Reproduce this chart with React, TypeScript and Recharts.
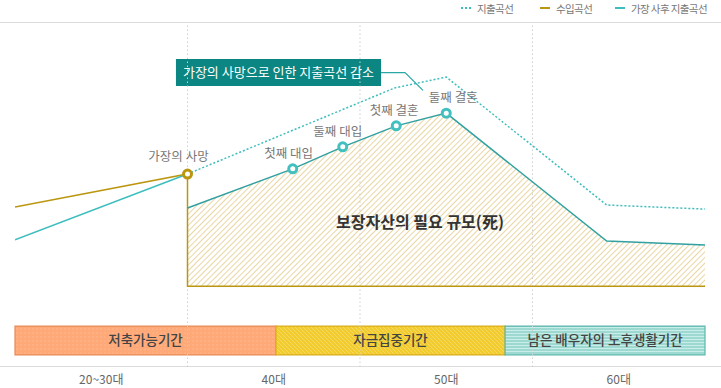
import {
  ComposedChart,
  Line,
  Area,
  XAxis,
  YAxis,
  ReferenceLine,
  ReferenceArea,
  ReferenceDot,
} from "recharts";

// 연령대 구간 (x축: 구간 하나가 1 단위)
const categories = ["20~30대", "40대", "50대", "60대"];
const categoryTicks = [0.5, 1.5, 2.5, 3.5];
const decadeBounds = [1, 2, 3];

// 수입곡선: 가장 사망 시점에서 급감
const incomeX = [0, 1, 1, 4];
const incomeY = [46.5, 56.1, 23.5, 23.5];

// 지출곡선: 사망 이전 (실선)
const spendBeforeX = [0, 1];
const spendBeforeY = [37, 56.1];

// 지출곡선: 원래 예상 (점선)
const spendExpectedX = [1, 2.2, 2.5, 3.43, 4];
const spendExpectedY = [56.1, 81.1, 84.3, 47.1, 45.9];

// 가장 사후 지출곡선
const spendAfterX = [1, 1.61, 1.9, 2.21, 2.5, 3.43, 4];
const spendAfterY = [46.2, 57.6, 64.0, 70.1, 73.8, 36.6, 35.5];
const spendAfterEvents = ["", "첫째 대입", "둘째 대입", "첫째 결혼", "둘째 결혼", "", ""];

// 가장의 사망 시점
const deathX = 1;
const deathY = 56.1;
const deathLabel = "가장의 사망";

// 설명 상자
const calloutText = "가장의 사망으로 인한 지출곡선 감소";
const calloutBox = { x1: 0.933, x2: 2.122, y1: 81.7, y2: 89.5 };
const leaderX = [2.122, 2.261, 2.365];
const leaderY = [85.6, 85.6, 80.4];

const areaLabel = "보장자산의 필요 규모(死)";
const areaLabelX = 2.348;
const areaLabelY = 42.2;

// 기간 막대
const periods = ["저축가능기간", "자금집중기간", "남은 배우자의 노후생활기간"];
const periodStart = [0, 1.513, 2.841];
const periodEnd = [1.513, 2.841, 4];
const periodLow = 3.5;
const periodHigh = 11.9;
const periodFill = ["url(#dotsOrange)", "url(#stripeYellow)", "url(#stripeTeal)"];
const periodStroke = ["#e98a57", "#d9ae1c", "#5ab8ad"];

const zip = (xs: number[], ys: number[]) => xs.map((x, i) => ({ x, y: ys[i] }));

const GOLD = "#bb960e";
const TEAL = "#3dbdbd";
const TEAL_DARK = "#30a0a0";
const BASE = 23.5;

const eventDx = [0, -4, -5, -2, 7];

function EventDot(props: any) {
  const { cx, cy, index } = props;
  const label = spendAfterEvents[index];
  if (!label) return <g key={`ev-${index}`} />;
  return (
    <g key={`ev-${index}`}>
      <circle cx={cx} cy={cy} r={4} fill="#fff" stroke="#42bfbf" strokeWidth={3} />
      <text
        x={cx + (eventDx[index] ?? 0)}
        y={cy - 11}
        textAnchor="middle"
        fontSize={12.5}
        fill="#777"
      >
        {label}
      </text>
    </g>
  );
}

function LegendItem({ left, kind, color, text }: any) {
  return (
    <div style={{ position: "absolute", left, top: 0, display: "flex", alignItems: "center", height: 16 }}>
      <span
        style={{
          display: "inline-block",
          width: 10,
          height: 0,
          borderTop: kind === "dot" ? `2px dotted ${color}` : `2px solid ${color}`,
          marginRight: 6,
        }}
      />
      <span style={{ fontSize: 10.5, color: "#777", whiteSpace: "nowrap", letterSpacing: -0.6 }}>{text}</span>
    </div>
  );
}

const hLine = (top: number) => (
  <div style={{ position: "absolute", left: 0, top, width: 721, height: 0, borderTop: "1.5px solid #dcdcdc" }} />
);

export default function App() {
  return (
    <div
      style={{
        position: "relative",
        width: 721,
        height: 388,
        background: "#fff",
        overflow: "hidden",
        fontFamily: "'Noto Sans CJK KR', 'Noto Sans', sans-serif",
      }}
    >
      <style>{"body{margin:0}"}</style>
      <svg width={0} height={0} style={{ position: "absolute" }}>
        <defs>
          <pattern id="needArea" width={4} height={4} patternUnits="userSpaceOnUse" patternTransform="rotate(45)">
            <rect x={0} y={0} width={1} height={4} fill="#e9d6a4" />
          </pattern>
          <pattern id="dotsOrange" width={4} height={4} patternUnits="userSpaceOnUse">
            <rect width={4} height={4} fill="#ffa978" />
            <circle cx={1} cy={1} r={0.6} fill="#ffc8a6" />
          </pattern>
          <pattern id="stripeYellow" width={4} height={4} patternUnits="userSpaceOnUse">
            <rect width={4} height={4} fill="#f2cc2e" />
            <path d="M0,0 L4,4 M-1,3 L1,5 M3,-1 L5,1" stroke="#f7dc6c" strokeWidth={0.8} />
          </pattern>
          <pattern id="stripeTeal" width={3} height={3} patternUnits="userSpaceOnUse">
            <rect width={3} height={3} fill="#9ed9d1" />
            <rect y={0} width={3} height={1} fill="#c9ede8" />
          </pattern>
        </defs>
      </svg>

      {hLine(22)}
      {hLine(366)}

      <LegendItem left={461} kind="dot" color={TEAL} text="지출곡선" />
      <LegendItem left={540} kind="line" color={GOLD} text="수입곡선" />
      <LegendItem left={615} kind="line" color={TEAL} text="가장 사후 지출곡선" />

      <div style={{ position: "absolute", left: 0, top: 0 }}>
        <ComposedChart width={721} height={388} margin={{ top: 23, right: 16, left: 15, bottom: 0 }}>
          <XAxis
            type="number"
            dataKey="x"
            domain={[0, 4]}
            allowDataOverflow
            ticks={categoryTicks}
            interval={0}
            tickFormatter={(v: number) => categories[Math.floor(v)]}
            tick={{ fontSize: 12, fill: "#666" }}
            tickLine={false}
            axisLine={false}
            height={21}
          />
          <YAxis type="number" domain={[0, 100]} hide allowDataOverflow />

          {decadeBounds.map((b) => (
            <ReferenceLine key={b} x={b} stroke="#cfcfcf" strokeDasharray="1.5 2.5" />
          ))}

          <Area
            data={zip(spendAfterX, spendAfterY)}
            dataKey="y"
            type="linear"
            baseValue={BASE}
            stroke="none"
            fill="url(#needArea)"
            fillOpacity={1}
            isAnimationActive={false}
          />

          {periods.map((p, i) => (
            <ReferenceArea
              key={p}
              x1={periodStart[i]}
              x2={periodEnd[i]}
              y1={periodLow}
              y2={periodHigh}
              fill={periodFill[i]}
              fillOpacity={1}
              stroke={periodStroke[i]}
              strokeWidth={1.2}
              label={{ value: p, position: "center", fontSize: 13.5, fill: "#444", fontWeight: 500 }}
            />
          ))}

          <Line
            data={zip(incomeX, incomeY)}
            dataKey="y"
            type="linear"
            stroke={GOLD}
            strokeWidth={1.5}
            dot={false}
            isAnimationActive={false}
          />
          <Line
            data={zip(spendBeforeX, spendBeforeY)}
            dataKey="y"
            type="linear"
            stroke={TEAL}
            strokeWidth={1.5}
            dot={false}
            isAnimationActive={false}
          />
          <Line
            data={zip(spendExpectedX, spendExpectedY)}
            dataKey="y"
            type="linear"
            stroke={TEAL}
            strokeWidth={1.5}
            strokeDasharray="2 2"
            dot={false}
            isAnimationActive={false}
          />
          <Line
            data={zip(leaderX, leaderY)}
            dataKey="y"
            type="linear"
            stroke="#2aa8a6"
            strokeWidth={1.2}
            dot={false}
            isAnimationActive={false}
          />
          <Line
            data={zip(spendAfterX, spendAfterY)}
            dataKey="y"
            type="linear"
            stroke={TEAL_DARK}
            strokeWidth={1.5}
            dot={EventDot}
            isAnimationActive={false}
          />

          <ReferenceArea
            x1={calloutBox.x1}
            x2={calloutBox.x2}
            y1={calloutBox.y1}
            y2={calloutBox.y2}
            fill="#0b8682"
            fillOpacity={1}
            stroke="none"
            label={{ value: calloutText, position: "center", fontSize: 13, fill: "#fff" }}
          />

          <ReferenceDot
            x={areaLabelX}
            y={areaLabelY}
            r={0}
            stroke="none"
            label={{ value: areaLabel, position: "center", fontSize: 16, fill: "#333", fontWeight: 700 }}
          />

          <ReferenceDot
            x={deathX}
            y={deathY}
            r={4}
            fill="#fff"
            stroke={GOLD}
            strokeWidth={3}
            label={{ value: deathLabel, position: "top", offset: 9, dx: -9, fontSize: 12.5, fill: "#777" }}
          />
        </ComposedChart>
      </div>
    </div>
  );
}
